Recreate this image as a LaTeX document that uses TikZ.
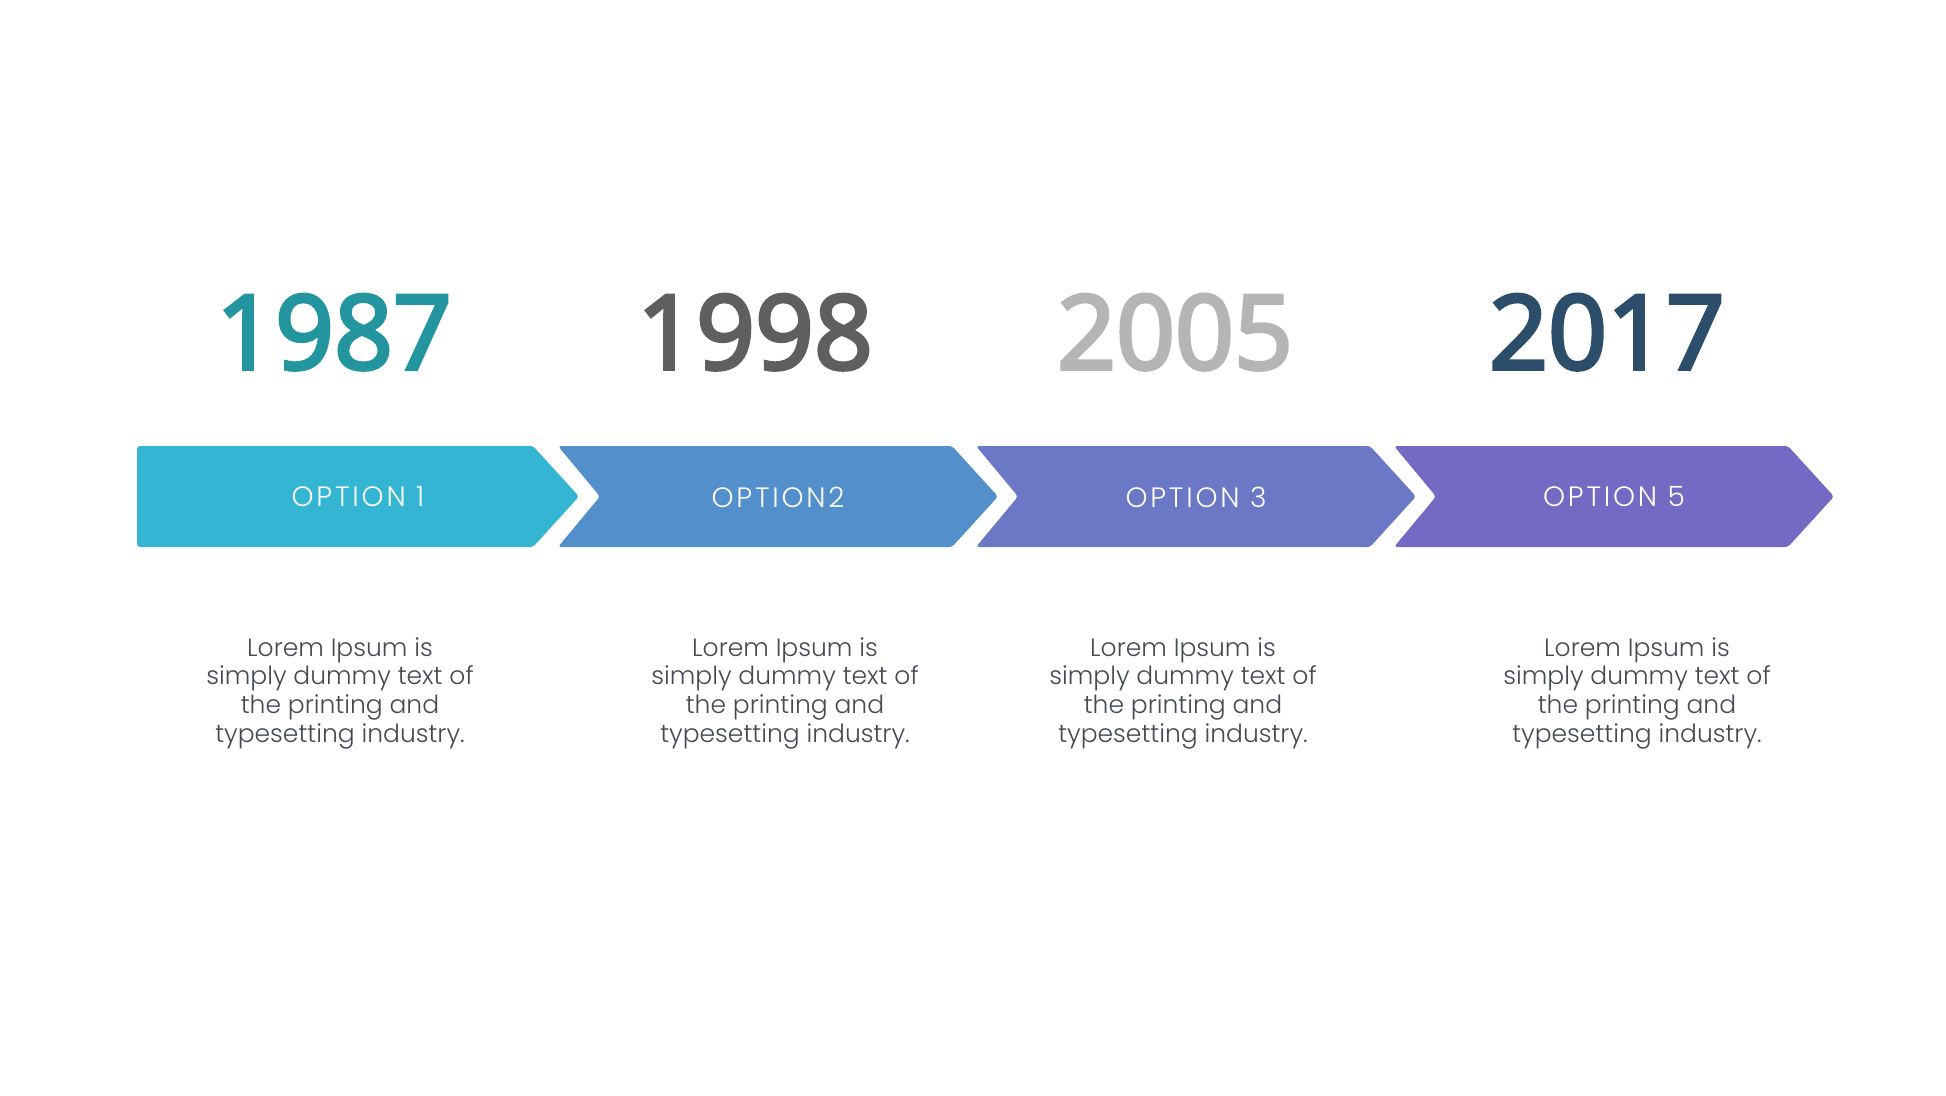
\documentclass[tikz,border=0pt]{standalone}
\usepackage{fontspec}
\setmainfont{Poppins}[UprightFont=* Light]
\newfontfamily\optfont{Poppins}[UprightFont=* Light, LetterSpace=10]
\newfontfamily\yearfont{Open Sans}[FakeBold=3.5]
\definecolor{cA}{HTML}{35B5D4}
\definecolor{cB}{HTML}{528FCB}
\definecolor{cC}{HTML}{6A78C5}
\definecolor{cD}{HTML}{756AC3}
\definecolor{yA}{HTML}{23959F}
\definecolor{yB}{HTML}{5F5F5F}
\definecolor{yC}{HTML}{B5B5B5}
\definecolor{yD}{HTML}{2C4E6A}
\definecolor{body}{HTML}{454A55}
\tikzset{
  year/.style={anchor=base, inner sep=0pt, font=\yearfont\fontsize{103}{103}\selectfont},
  optlabel/.style={inner sep=0pt, text=white, font=\optfont\fontsize{28}{28}\selectfont},
  bodytext/.style={anchor=north, inner sep=0pt, align=center, text=body, font=\fontsize{25}{28.8}\selectfont},
  chev/.style={rounded corners=3pt}
}
\begin{document}
\begin{tikzpicture}[x=1pt,y=-1pt]
\useasboundingbox[fill=white] (0,0) rectangle (1946,1095);
% chevrons
\fill[chev,cA] (137,446) -- (533,446) -- (579,496.5) -- (533,547) -- (137,547) -- cycle;
\fill[chev,cB] (558,446) -- (952,446) -- (998,496.5) -- (952,547) -- (558,547) -- (600,496.5) -- cycle;
\fill[chev,cC] (976,446) -- (1370,446) -- (1416,496.5) -- (1370,547) -- (976,547) -- (1018,496.5) -- cycle;
\fill[chev,cD] (1394,446) -- (1788,446) -- (1834,496.5) -- (1788,547) -- (1394,547) -- (1436,496.5) -- cycle;
% option labels
\node[optlabel] (o1) at (358,497) {OPTION 1};
\node[optlabel] (o2) at (778,497) {OPTION2};
\node[optlabel] (o3) at (1196,497) {OPTION 3};
\node[optlabel] (o4) at (1614,497) {OPTION 5};
% years
\node[year,text=yA] (y1) at (334,369) {1987};
\node[year,text=yB] (y2) at (755,369) {1998};
\node[year,text=yC] (y3) at (1175,369) {2005};
\node[year,text=yD] (y4) at (1607,369) {2017};
% body texts
\node[bodytext] (t1) at (340,637) {Lorem Ipsum is\\simply dummy text of\\the printing and\\typesetting industry.};
\node[bodytext] (t2) at (785,637) {Lorem Ipsum is\\simply dummy text of\\the printing and\\typesetting industry.};
\node[bodytext] (t3) at (1183,637) {Lorem Ipsum is\\simply dummy text of\\the printing and\\typesetting industry.};
\node[bodytext] (t4) at (1637,637) {Lorem Ipsum is\\simply dummy text of\\the printing and\\typesetting industry.};
\end{tikzpicture}
\end{document}
